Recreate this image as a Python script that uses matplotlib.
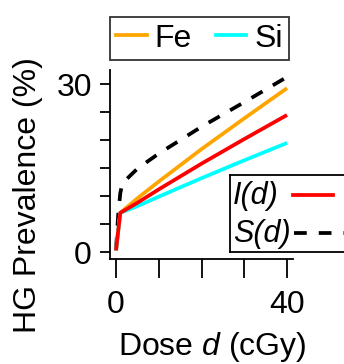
import matplotlib
matplotlib.use("Agg")
import matplotlib.pyplot as plt
from matplotlib.lines import Line2D
from matplotlib.patches import Rectangle

plt.rcParams['font.family'] = ['Liberation Sans', 'DejaVu Sans']
plt.rcParams['mathtext.fontset'] = 'custom'
plt.rcParams['mathtext.rm'] = 'Liberation Sans'
plt.rcParams['mathtext.it'] = 'Liberation Sans:italic'

# Data
dose = [0, 1, 5, 10, 20, 30, 40]
fe = [0.3, 7.0, 9.6, 12.6, 18.4, 23.9, 29.3]
si = [0.3, 7.0, 8.2, 9.9, 13.2, 16.4, 19.5]
i_d = [0.3, 7.0, 8.8, 11.2, 15.8, 20.2, 24.5]
s_dose = [0, 0.5, 1, 1.5, 5, 10, 20, 30, 40]
s_d = [0.3, 6.5, 10.5, 12.3, 14.9, 17.6, 22.4, 26.8, 31.3]
x_ticks = [0, 10, 20, 30, 40]
x_ticklabels = ['0', '', '', '', '40']
y_ticks = [0, 5, 10, 15, 20, 25, 30]
y_ticklabels = ['0', '', '', '', '', '', '30']

W, H = 344, 364
FS = 23
fig = plt.figure(figsize=(W/100, H/100), dpi=100)
ax = fig.add_axes([110/W, 1-259/H, (293-110)/W, (259-70)/H])


def fx(px):
    return px / W


def fy(py):
    return 1 - py / H


lw = 2.7
dash = (3.4, 3.2)
ax.plot(s_dose, s_d, color='black', lw=lw, dashes=dash)
ax.plot(dose, fe, color='#FFA500', lw=lw, solid_capstyle='butt')
ax.plot(dose, si, color='#00FFFF', lw=lw, solid_capstyle='butt')
ax.plot(dose, i_d, color='#FF0000', lw=lw, solid_capstyle='butt')

ax.set_xlim(-1.4, 41.4)
ax.set_ylim(-1.25, 32.55)
ax.set_xticks(x_ticks)
ax.set_xticklabels(x_ticklabels)
ax.set_yticks(y_ticks)
ax.set_yticklabels(y_ticklabels)
for s in ['top', 'right']:
    ax.spines[s].set_visible(False)
for s in ['left', 'bottom']:
    ax.spines[s].set_linewidth(1.3)
ax.tick_params(axis='x', length=14, width=1.3, labelsize=FS, pad=8)
ax.tick_params(axis='y', length=7, width=1.3, labelsize=FS, pad=6)

fig.text(fx(212), fy(355), 'Dose $d$ (cGy)', fontsize=FS, ha='center', va='baseline')
fig.text(fx(28), fy(195), 'HG Prevalence (%)', fontsize=FS, ha='center', va='center',
         rotation=90)

# top legend
h1 = [Line2D([], [], color='#FFA500', lw=lw), Line2D([], [], color='#00FFFF', lw=lw)]
leg1 = fig.legend(h1, ['Fe', 'Si'], loc='lower left', bbox_to_anchor=(110/W, 1-60/H),
                  ncol=2, fontsize=FS, frameon=True, fancybox=False, borderaxespad=0,
                  handlelength=0.95, handletextpad=0.25, columnspacing=0.75,
                  borderpad=0.2)
leg1.get_frame().set_edgecolor('black')
leg1.get_frame().set_linewidth(1.3)

# lower legend (text first, left aligned), box runs past the right edge
fig.add_artist(Rectangle((fx(230), fy(252)), fx(344) - fx(230), fy(175) - fy(252),
                         transform=fig.transFigure, facecolor='white',
                         edgecolor='none', zorder=5))
for xs, ys in [([230, 350], [175, 175]), ([230, 350], [252, 252]), ([230, 230], [175, 252])]:
    fig.add_artist(Line2D([fx(v) for v in xs], [fy(v) for v in ys], color='black',
                          lw=1.3, transform=fig.transFigure, zorder=6))
fig.text(fx(233), fy(196), 'I(d)', fontsize=FS - 1, style='italic', va='center',
         ha='left', zorder=6)
fig.text(fx(233), fy(234), 'S(d)', fontsize=FS - 1, style='italic', va='center',
         ha='left', zorder=6)
fig.add_artist(Line2D([fx(293), fx(333)], [fy(195), fy(195)], color='#FF0000', lw=lw,
                      transform=fig.transFigure, zorder=6))
fig.add_artist(Line2D([fx(294), fx(360)], [fy(233), fy(233)], color='black', lw=lw,
                      dashes=dash, transform=fig.transFigure, zorder=6))

fig.savefig('out.png', dpi=100)
